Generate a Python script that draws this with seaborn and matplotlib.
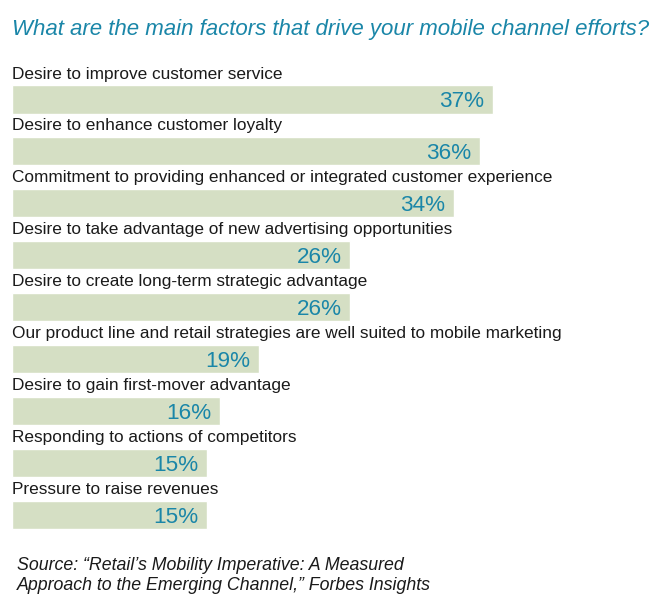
import matplotlib
matplotlib.use("Agg")
import matplotlib.pyplot as plt
import seaborn as sns
import pandas as pd

# data
factors = [
    "Desire to improve customer service",
    "Desire to enhance customer loyalty",
    "Commitment to providing enhanced or integrated customer experience",
    "Desire to take advantage of new advertising opportunities",
    "Desire to create long-term strategic advantage",
    "Our product line and retail strategies are well suited to mobile marketing",
    "Desire to gain first-mover advantage",
    "Responding to actions of competitors",
    "Pressure to raise revenues",
]
shares = [37, 36, 34, 26, 26, 19, 16, 15, 15]

title = "What are the main factors that drive your mobile channel efforts?"
source_lines = [
    "Source: \u201cRetail\u2019s Mobility Imperative: A Measured",
    "Approach to the Emerging Channel,\u201d Forbes Insights",
]

df = pd.DataFrame({"factor": factors, "share": shares})

sns.set_style("white")
plt.rcParams["font.family"] = ["Liberation Sans", "DejaVu Sans"]

W, H = 663, 611
fig = plt.figure(figsize=(W / 100, H / 100), dpi=100)
fig.patch.set_facecolor("white")

# axes placed in pixel terms: left 12px, top 60px, bottom 541px
ax = fig.add_axes([12 / W, (H - 541) / H, 650 / W, 481 / H])
sns.barplot(data=df, y="factor", x="share", orient="h", color="#d5dfc4",
            width=0.54, saturation=1, ax=ax)
ax.set_xlim(0, 50)
ax.set_ylim(8.5, -0.76)
ax.axis("off")

teal = "#1a86a8"
for i, (name, val) in enumerate(zip(factors, shares)):
    ax.text(0, i - 0.49, name, ha="left", va="center", fontsize=12.4,
            color="#1a1a1a")
    ax.text(val - 0.65, i + 0.04, f"{val}%", ha="right", va="center",
            fontsize=16.2, color=teal)

fig.text(12 / W, 1 - 30 / H, title, ha="left", va="center", fontsize=16,
         style="italic", color=teal)
fig.text(17 / W, 1 - 565 / H, source_lines[0], ha="left", va="center",
         fontsize=12.8, style="italic", color="#1a1a1a")
fig.text(17 / W, 1 - 585 / H, source_lines[1], ha="left", va="center",
         fontsize=12.8, style="italic", color="#1a1a1a")

fig.savefig("out.png", dpi=100)
